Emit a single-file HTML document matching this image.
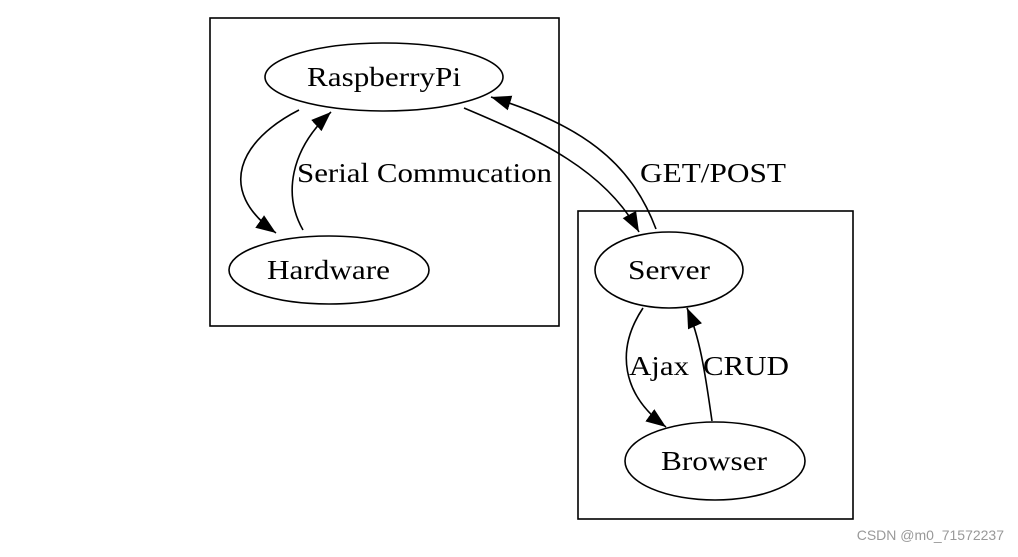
<!DOCTYPE html>
<html><head><style>
html,body{margin:0;padding:0;background:#fff;}
svg text{font-family:"Liberation Serif",serif;font-size:27px;fill:#000;}
</style></head><body>
<svg width="1018" height="552" viewBox="0 0 1018 552" xmlns="http://www.w3.org/2000/svg">
<defs>
<marker id="a" viewBox="0 0 10 10" refX="10" refY="5" markerWidth="20" markerHeight="20" markerUnits="userSpaceOnUse" orient="auto">
<path d="M0,1.2 L10,5 L0,8.8 z" fill="#000"/>
</marker>
</defs>
<g fill="none" stroke="#000" stroke-width="1.6">
<rect x="210" y="18" width="349" height="308"/>
<rect x="578" y="211" width="275" height="308"/>
<ellipse cx="384" cy="77" rx="119" ry="34"/>
<ellipse cx="329" cy="270" rx="100" ry="34"/>
<ellipse cx="669" cy="270" rx="74" ry="38"/>
<ellipse cx="715" cy="461" rx="90" ry="39"/>
<path d="M299,110 C240,140 215,190 276,233" marker-end="url(#a)"/>
<path d="M303,230 C283,195 290,150 331,112" marker-end="url(#a)"/>
<path d="M464,108 C540,140 605,170 639,232" marker-end="url(#a)"/>
<path d="M656,229 C630,160 580,125 491,97" marker-end="url(#a)"/>
<path d="M643,308 C615,350 622,395 666,427" marker-end="url(#a)"/>
<path d="M712,421 C706,380 701,340 687,308" marker-end="url(#a)"/>
</g>
<g style="" >
<text x="307" y="86" textLength="154" lengthAdjust="spacingAndGlyphs">RaspberryPi</text>
<text x="267" y="279" textLength="123" lengthAdjust="spacingAndGlyphs">Hardware</text>
<text x="628" y="279" textLength="82" lengthAdjust="spacingAndGlyphs">Server</text>
<text x="661" y="470" textLength="106" lengthAdjust="spacingAndGlyphs">Browser</text>
<text x="297" y="182" textLength="255" lengthAdjust="spacingAndGlyphs">Serial Commucation</text>
<text x="640" y="182" textLength="146" lengthAdjust="spacingAndGlyphs">GET/POST</text>
<text x="629" y="375" textLength="60" lengthAdjust="spacingAndGlyphs">Ajax</text>
<text x="703" y="375" textLength="86" lengthAdjust="spacingAndGlyphs">CRUD</text>
</g>
<text x="1004" y="540" text-anchor="end" style="font-family:'Liberation Sans',sans-serif;font-size:14px;fill:#999;">CSDN @m0_71572237</text>
</svg>
</body></html>
